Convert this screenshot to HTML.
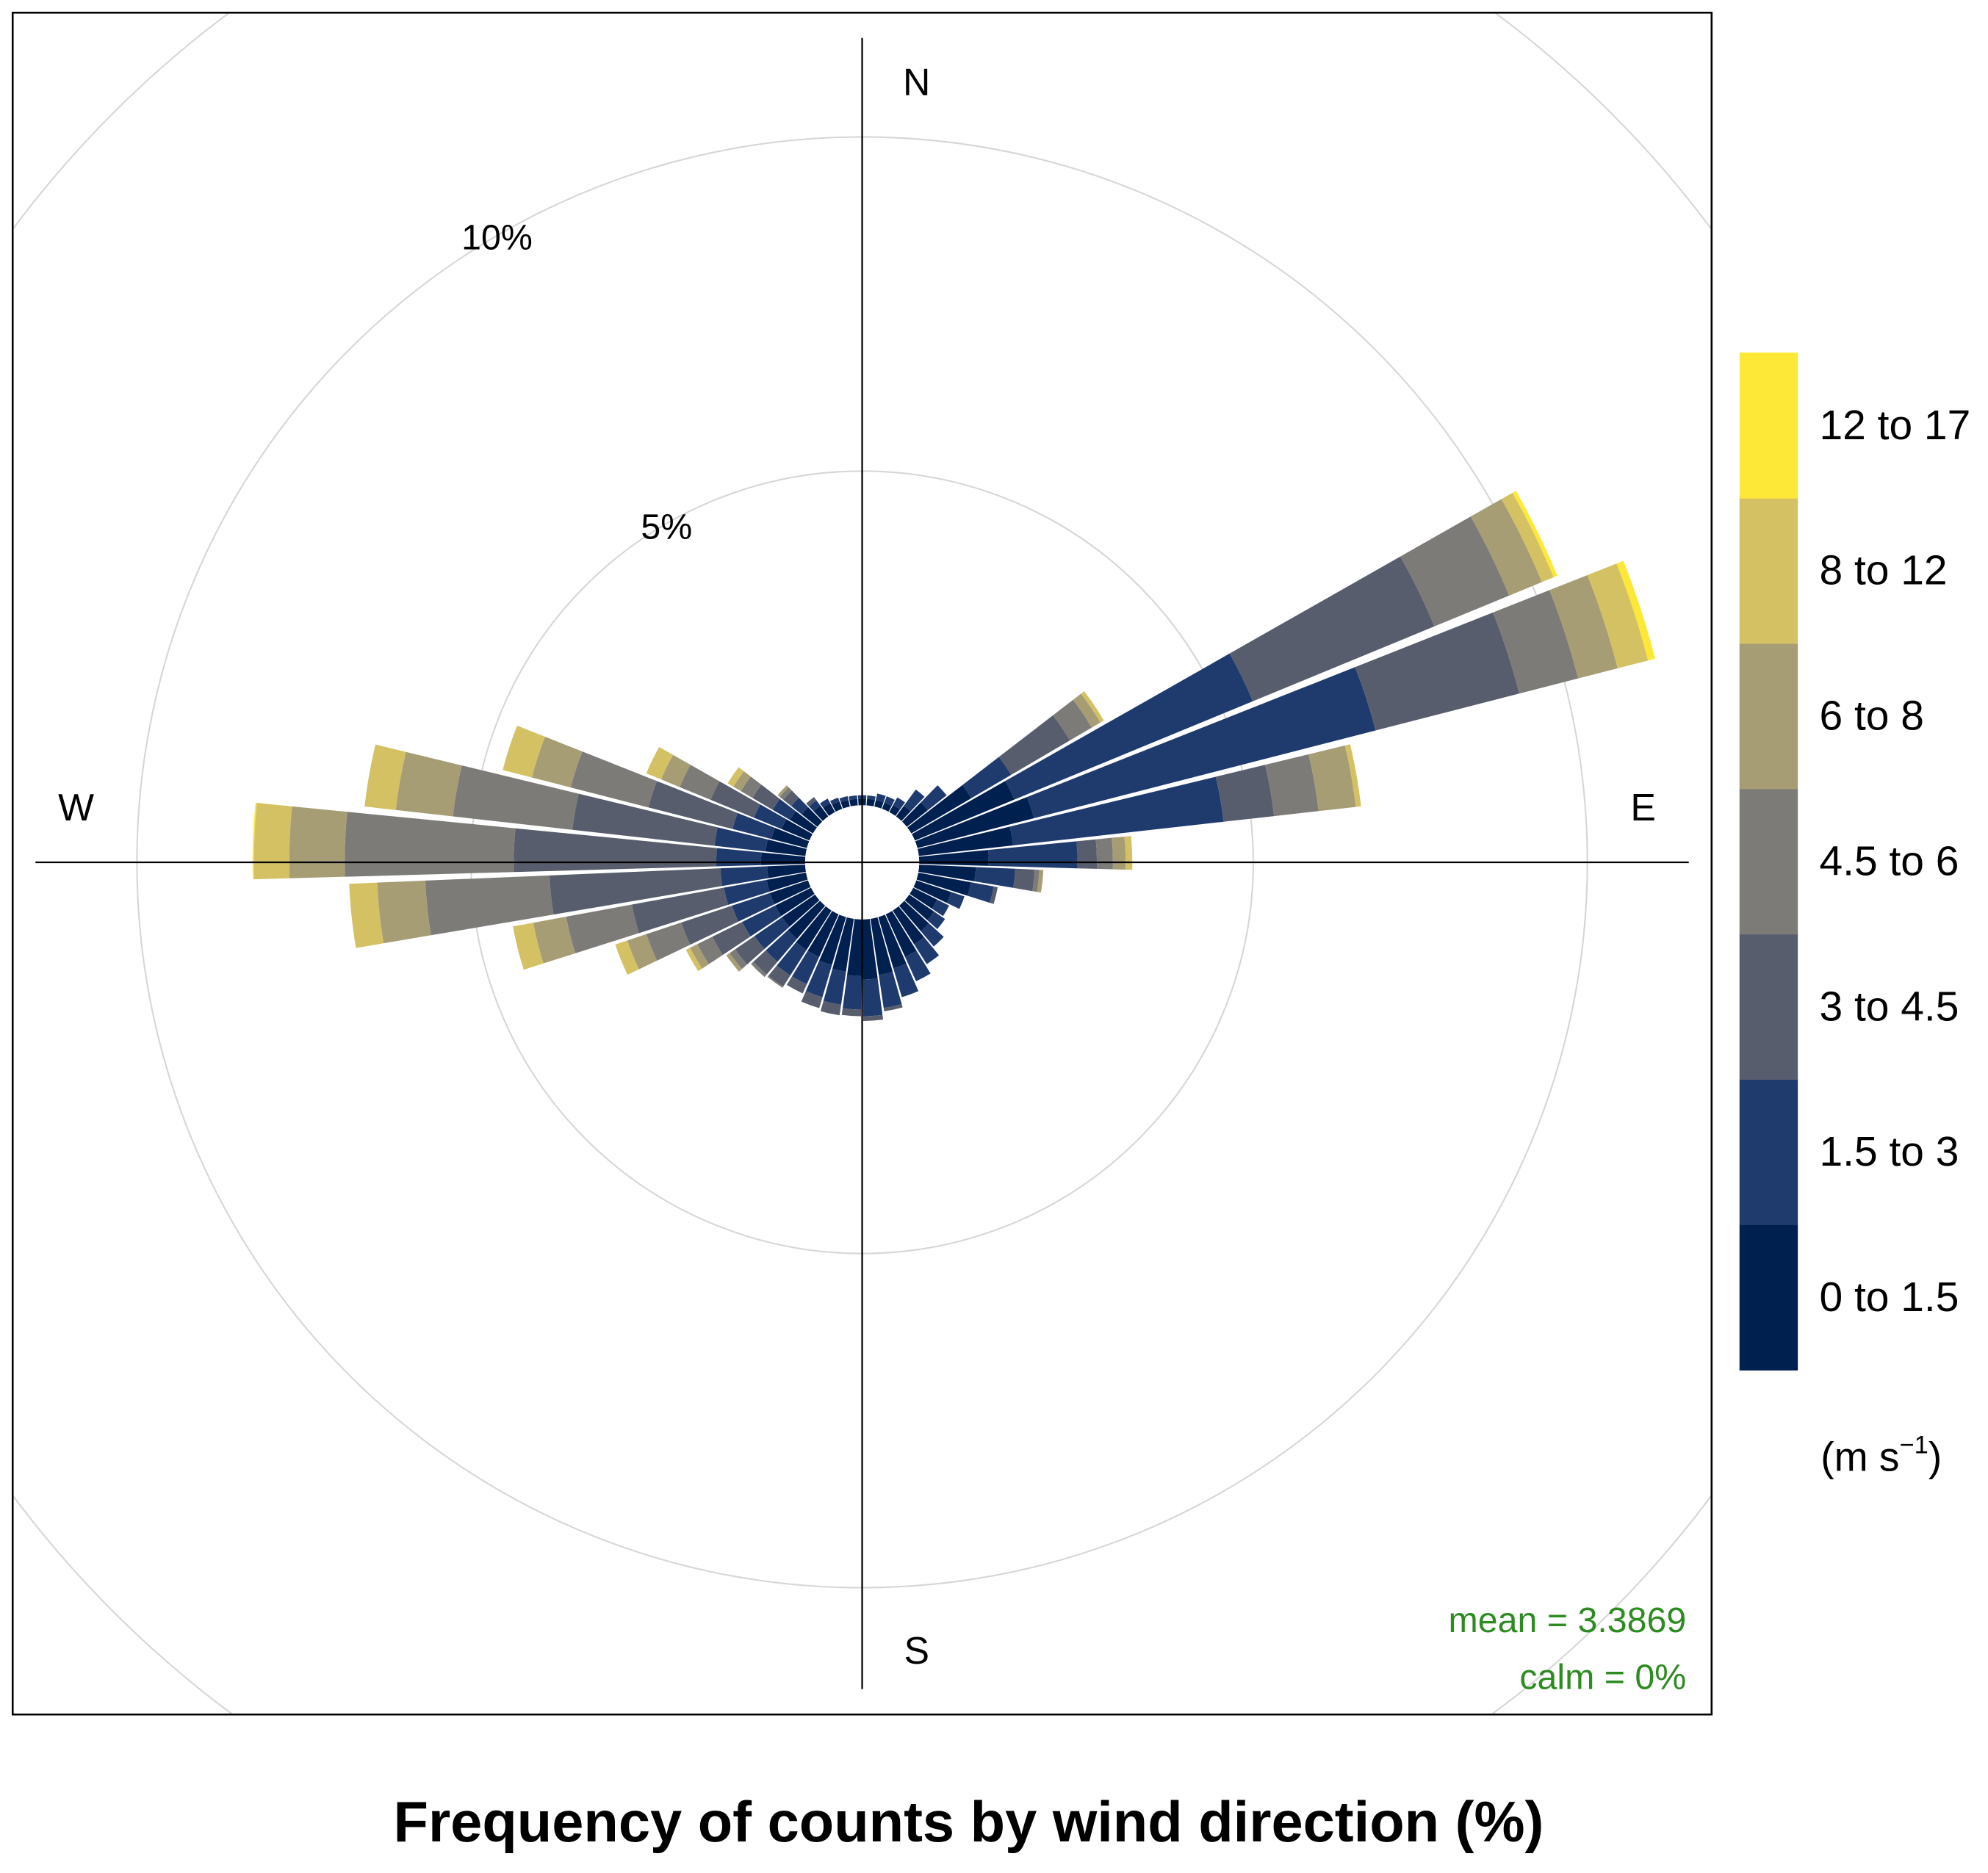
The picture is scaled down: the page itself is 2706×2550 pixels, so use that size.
<!DOCTYPE html>
<html><head><meta charset="utf-8"><style>
html,body{margin:0;padding:0;background:#fff;width:2706px;height:2550px;overflow:hidden;}
svg{display:block;font-family:"Liberation Sans",Arial,sans-serif;}
</style></head><body>
<svg id="chart" width="2706" height="2550" viewBox="0 0 1568 1477" preserveAspectRatio="none" xmlns="http://www.w3.org/2000/svg">
<defs><clipPath id="plotclip"><rect x="10" y="10" width="1340" height="1342"/></clipPath></defs>
<rect x="0" y="0" width="1568" height="1477" fill="#fff"/>
<g id="grid" clip-path="url(#plotclip)"></g>
<g id="bars"></g>
<circle cx="680" cy="680" r="45" fill="#fff"/>
<line x1="680" y1="30" x2="680" y2="1332" stroke="#000" stroke-width="1.3"/>
<line x1="28" y1="680" x2="1332" y2="680" stroke="#000" stroke-width="1.3"/>
<rect x="10" y="10" width="1340" height="1342" fill="none" stroke="#000" stroke-width="1.5"/>
<text x="723" y="75" font-size="30" text-anchor="middle">N</text>
<text x="723" y="1312" font-size="30" text-anchor="middle">S</text>
<text x="60" y="647" font-size="30" text-anchor="middle">W</text>
<text x="1296" y="647" font-size="30" text-anchor="middle">E</text>
<g id="ticklabels"></g>
<g id="legend"></g>
<text x="1436" y="1160" font-size="32">(m s<tspan dy="-14" font-size="20">−1</tspan><tspan dy="14">)</tspan></text>
<text x="1330" y="1287" font-size="28" fill="#2e8b22" text-anchor="end">mean = 3.3869</text>
<text x="1330" y="1332" font-size="28" fill="#2e8b22" text-anchor="end">calm = 0%</text>
<text x="764" y="1452" font-size="45" font-weight="bold" text-anchor="middle">Frequency of counts by wind direction (%)</text>
</svg>
<script>
const directions = [0,8,16,24,32,40,48,56,64,72,80,88,96,104,112,120,128,136,144,152,160,168,176,184,192,200,208,216,224,232,240,248,256,264,272,280,288,296,304,312,320,328,336,344,352];
const s0 = [.1,.1,.1,.1,.12,.2,.4,1.04,1.61,1.80,1.42,1.04,.85,.8,.55,.4,.45,.5,.6,.7,.8,.85,.9,.85,.8,.75,.7,.7,.65,.6,.6,.6,.6,.57,.66,.6,.55,.45,.4,.3,.2,.15,.12,.1,.1];
const s1 = [.05,.05,.1,.1,.13,.3,.36,.69,3.86,5.28,3.17,1.33,.59,.35,.21,.2,.2,.3,.35,.4,.45,.5,.55,.5,.5,.5,.45,.45,.45,.5,.55,.6,.65,.7,.67,.77,.6,.45,.3,.2,.1,.08,.06,.06,.05];
const s2 = [0,0,0,0,0,0,0,1.02,2.94,2.22,.76,.29,.29,.06,0,0,0,0,0,0,0,.05,.07,.1,.16,.17,.15,.2,.25,.35,.5,.8,1.4,2.56,3.03,2.14,1.3,.7,.35,.15,.06,0,0,0,0];
const s3 = [0,0,0,0,0,0,0,.38,1.21,.91,.67,.24,.07,0,0,0,0,0,0,0,0,0,0,0,0,0,0,.02,.05,.1,.25,.55,1.0,1.86,2.53,1.8,1.2,.5,.2,.07,0,0,0,0,0];
const s4 = [0,0,0,0,0,0,0,.15,.53,.61,.56,.19,.06,0,0,0,0,0,0,0,0,0,0,0,0,0,0,0,0,.06,.12,.3,.5,.72,.83,.86,.6,.3,.13,.04,0,0,0,0,0];
const s5 = [0,0,0,0,0,0,0,.06,.19,.47,.08,.1,0,0,0,0,0,0,0,0,0,0,0,0,0,0,0,0,0,0,.07,.19,.31,.42,.53,.47,.45,.24,.1,0,0,0,0,0,0];
const s6 = [0,0,0,0,0,0,0,0,.06,.11,0,0,0,0,0,0,0,0,0,0,0,0,0,0,0,0,0,0,0,0,0,0,0,0,.02,0,0,0,0,0,0,0,0,0,0];
const series = [s0,s1,s2,s3,s4,s5,s6];
const speedLabels = ["0 to 1.5","1.5 to 3","3 to 4.5","4.5 to 6","6 to 8","8 to 12","12 to 17"];
const colors = ["#00204f","#1f3b6e","#575d6d","#7c7b78","#a69d75","#d3c164","#fde838"];
const gridPct = [5,10,15,20];
const tickLabels = ["5%","10%"];

const NS="http://www.w3.org/2000/svg";
const cx=680, cy=680, r0=45, k=52.7, binW=7.2;
function rScale(p){return r0+p*k;}
function pt(b,r){const a=b*Math.PI/180;return [cx+r*Math.sin(a), cy-r*Math.cos(a)];}
function sector(b,ri,ro){
  const a1=b-binW/2,a2=b+binW/2;
  const p1=pt(a1,ri),p2=pt(a1,ro),p3=pt(a2,ro),p4=pt(a2,ri);
  return `M${p1[0]},${p1[1]}L${p2[0]},${p2[1]}A${ro},${ro} 0 0 1 ${p3[0]},${p3[1]}L${p4[0]},${p4[1]}A${ri},${ri} 0 0 0 ${p1[0]},${p1[1]}Z`;
}
const grid=document.getElementById('grid');
gridPct.forEach(g=>{
  const c=document.createElementNS(NS,'circle');
  
  
  c.setAttribute('cx',cx);c.setAttribute('cy',cy);c.setAttribute('r',rScale(g));
  c.setAttribute('fill','none');c.setAttribute('stroke','#d6d6d6');c.setAttribute('stroke-width','1.2');
  grid.appendChild(c);
});
const tl=document.getElementById('ticklabels');
tickLabels.forEach((t,i)=>{
  const p=pt(-30,rScale(gridPct[i]));
  const e=document.createElementNS(NS,'text');
  
  
  e.setAttribute('x',p[0]+(i==0?0:-2));e.setAttribute('y',p[1]+12);
  e.setAttribute('font-size','28');e.setAttribute('text-anchor','middle');
  e.textContent=t;tl.appendChild(e);
});
const bars=document.getElementById('bars');
directions.forEach((d,i)=>{
  let cum=0;
  series.forEach((s,j)=>{
    const v=s[i]; if(!(v>0)) return;
    const ri=rScale(cum), ro=rScale(cum+v); cum+=v;
    const p=document.createElementNS(NS,'path');
    
    
    p.setAttribute('d',sector(d,ri,ro));
    p.setAttribute('fill',colors[j]);
    bars.appendChild(p);
  });
});
const lg=document.getElementById('legend');
const segH=114.6, legendTop=278;
speedLabels.forEach((l,j)=>{
  const y=legendTop+(6-j)*segH;
  const r=document.createElementNS(NS,'rect');
  
  
  r.setAttribute('x',1372);r.setAttribute('y',y);r.setAttribute('width',46);r.setAttribute('height',segH+0.5);
  r.setAttribute('fill',colors[j]);lg.appendChild(r);
  const t=document.createElementNS(NS,'text');
  
  
  t.setAttribute('x',1435);t.setAttribute('y',y+segH/2+11);t.setAttribute('font-size','33');
  t.textContent=l;lg.appendChild(t);
});
</script>
</body></html>
